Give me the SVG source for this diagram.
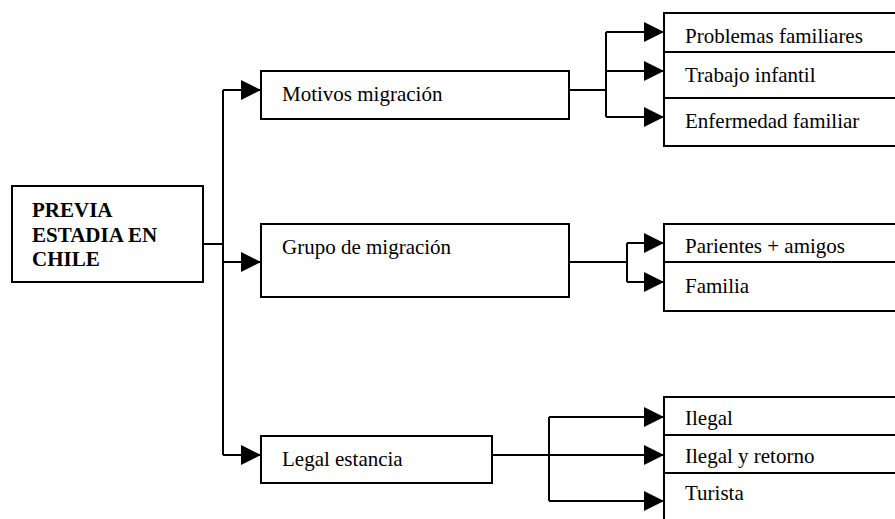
<svg xmlns="http://www.w3.org/2000/svg" width="895" height="519" viewBox="0 0 895 519">
<style>
.box{fill:#fff;stroke:#000;stroke-width:2}
.t{font-family:"Liberation Serif",serif;font-size:21px;fill:#000}
.b{font-weight:bold}
.c{fill:none;stroke:#000;stroke-width:2}
</style>
<defs>
<marker id="ah" viewBox="0 0 20 20" refX="20" refY="10" markerWidth="20" markerHeight="20" markerUnits="userSpaceOnUse" orient="auto">
<path d="M0,0 L20,10 L0,20 z" fill="#000"/>
</marker>
</defs>
<rect width="895" height="519" fill="#fff"/>
<g id="connectors">
<path class="c" d="M203,244 H223"/>
<path class="c" d="M223,90 V455"/>
<path class="c" d="M223,90 H261" marker-end="url(#ah)"/>
<path class="c" d="M223,262 H261" marker-end="url(#ah)"/>
<path class="c" d="M223,455 H261" marker-end="url(#ah)"/>
<path class="c" d="M569,90 H606"/>
<path class="c" d="M606,32 V117"/>
<path class="c" d="M606,32 H664" marker-end="url(#ah)"/>
<path class="c" d="M606,71 H664" marker-end="url(#ah)"/>
<path class="c" d="M606,117 H664" marker-end="url(#ah)"/>
<path class="c" d="M569,262 H627"/>
<path class="c" d="M627,243 V282"/>
<path class="c" d="M627,243 H664" marker-end="url(#ah)"/>
<path class="c" d="M627,282 H664" marker-end="url(#ah)"/>
<path class="c" d="M492,455 H664" marker-end="url(#ah)"/>
<path class="c" d="M549,417 V501"/>
<path class="c" d="M549,417 H664" marker-end="url(#ah)"/>
<path class="c" d="M549,501 H664" marker-end="url(#ah)"/>
</g>
<g id="previa">
<rect class="box" x="12" y="186" width="191" height="96"/>
<text class="t b" x="32" y="217">PREVIA</text>
<text class="t b" x="32" y="242">ESTADIA EN</text>
<text class="t b" x="32" y="266">CHILE</text>
</g>
<g id="motivos">
<rect class="box" x="261" y="71" width="308" height="48"/>
<text class="t" x="282" y="101">Motivos migración</text>
</g>
<g id="grupo">
<rect class="box" x="261" y="224" width="308" height="73"/>
<text class="t" x="282" y="254">Grupo de migración</text>
</g>
<g id="legal">
<rect class="box" x="261" y="436" width="231" height="47"/>
<text class="t" x="282" y="466">Legal estancia</text>
</g>
<g id="problemas">
<rect class="box" x="664" y="13" width="240" height="39"/>
<text class="t" x="685" y="43">Problemas familiares</text>
</g>
<g id="trabajo">
<rect class="box" x="664" y="52" width="240" height="46"/>
<text class="t" x="685" y="82">Trabajo infantil</text>
</g>
<g id="enfermedad">
<rect class="box" x="664" y="98" width="240" height="48"/>
<text class="t" x="685" y="128">Enfermedad familiar</text>
</g>
<g id="parientes">
<rect class="box" x="664" y="224" width="240" height="38"/>
<text class="t" x="685" y="253">Parientes + amigos</text>
</g>
<g id="familia">
<rect class="box" x="664" y="262" width="240" height="49"/>
<text class="t" x="685" y="293">Familia</text>
</g>
<g id="ilegal">
<rect class="box" x="664" y="397" width="240" height="38"/>
<text class="t" x="685" y="425">Ilegal</text>
</g>
<g id="ilegal-retorno">
<rect class="box" x="664" y="435" width="240" height="38"/>
<text class="t" x="685" y="463">Ilegal y retorno</text>
</g>
<g id="turista">
<rect class="box" x="664" y="473" width="240" height="60"/>
<text class="t" x="685" y="500">Turista</text>
</g>
</svg>
